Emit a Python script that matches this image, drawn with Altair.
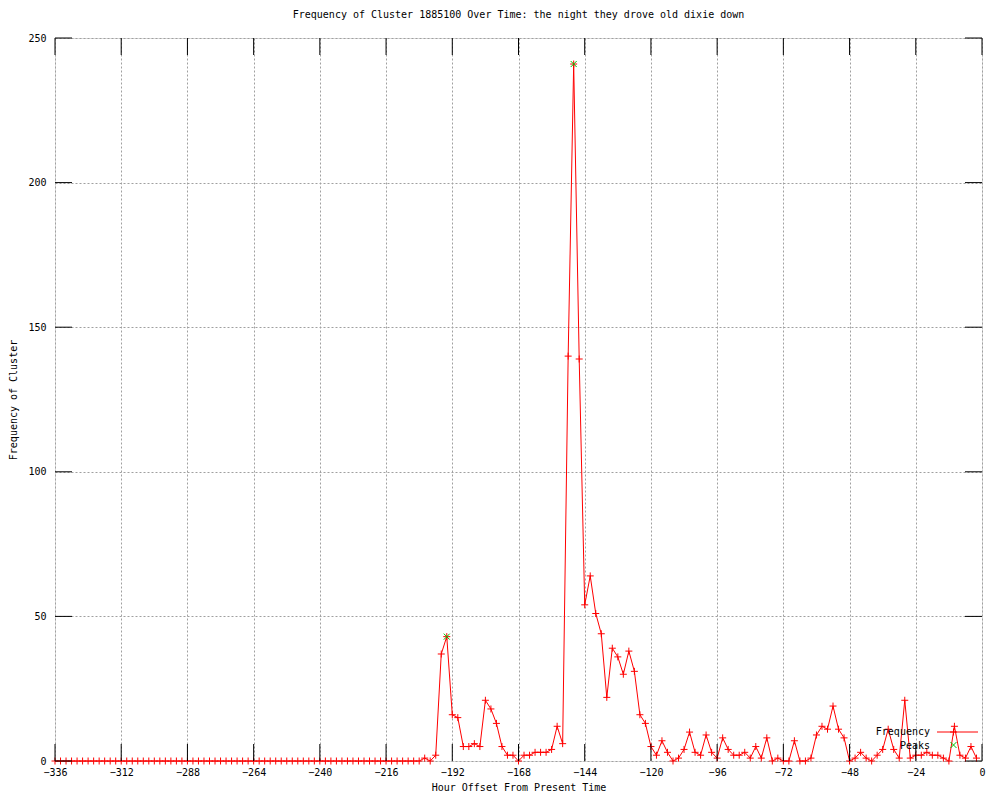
import altair as alt
import pandas as pd

# ---- data ----
hours = list(range(-336, 0, 2))  # -336 .. -2, every 2 hours
frequency = [
    0, 0, 0, 0, 0, 0, 0, 0, 0, 0,
    0, 0, 0, 0, 0, 0, 0, 0, 0, 0,
    0, 0, 0, 0, 0, 0, 0, 0, 0, 0,
    0, 0, 0, 0, 0, 0, 0, 0, 0, 0,
    0, 0, 0, 0, 0, 0, 0, 0, 0, 0,
    0, 0, 0, 0, 0, 0, 0, 0, 0, 0,
    0, 0, 0, 0, 0, 0, 0,
    1, 0, 2, 37, 43, 16, 15, 5, 5, 6,
    5, 21, 18, 13, 5, 2, 2, 0, 2, 2,
    3, 3, 3, 4, 12, 6, 140, 241, 139, 54,
    64, 51, 44, 22, 39, 36, 30, 38, 31, 16,
    13, 5, 2, 7, 3, 0, 1, 4, 10, 3,
    2, 9, 3, 1, 8, 4, 2, 2, 3, 1,
    5, 1, 8, 0, 1, 0, 0, 7, 0, 0,
    1, 9, 12, 11, 19, 11, 8, 0, 1, 3,
    1, 0, 2, 4, 11, 4, 1, 21, 1, 2,
    2, 3, 2, 2, 1, 0, 12, 2, 1, 5,
    1,
]
peak_hours = [-194, -148]
peak_values = [43, 241]

x_ticks = [-336, -312, -288, -264, -240, -216, -192, -168, -144, -120, -96, -72, -48, -24, 0]
y_ticks = [0, 50, 100, 150, 200, 250]
legend_labels = ["Frequency", "Peaks"]

TITLE = "Frequency of Cluster 1885100 Over Time: the night they drove old dixie down"
FONT = "DejaVu Sans Mono"
W, H = 927, 723
TICK = 17

df = pd.DataFrame({"hour": hours, "freq": frequency})
pk = pd.DataFrame({"hour": peak_hours, "freq": peak_values})
xt = pd.DataFrame({"t": x_ticks})
yt = pd.DataFrame({"t": y_ticks})

xscale = alt.Scale(domain=[-336, 0], nice=False, zero=False)
yscale = alt.Scale(domain=[0, 250], nice=False)

PLUS = "M-1,0L1,0M0,-1L0,1"
CROSS = "M-1,-1L1,1M-1,1L1,-1"

xaxis = alt.Axis(values=x_ticks, format="d", grid=True, gridColor="#a0a0a0",
                 gridDash=[2, 2], gridWidth=1, ticks=False, domain=False,
                 labelFlush=False, labelOverlap=False,
                 labelFont=FONT, labelFontSize=10, labelColor="black", labelPadding=6,
                 title="Hour Offset From Present Time", titleFont=FONT, titleFontSize=10,
                 titleFontWeight="normal", titleColor="black",
                 titleX=W / 2, titleY=29, titleBaseline="alphabetic")
yaxis = alt.Axis(values=y_ticks, format="d", grid=True, gridColor="#a0a0a0",
                 gridDash=[2, 2], gridWidth=1, ticks=False, domain=False,
                 labelFlush=False, labelOverlap=False,
                 labelFont=FONT, labelFontSize=10, labelColor="black", labelPadding=9,
                 title="Frequency of Cluster", titleFont=FONT, titleFontSize=10,
                 titleFontWeight="normal", titleColor="black",
                 titleX=-42, titleY=H / 2, titleBaseline="middle")

base = alt.Chart(df)
line = base.mark_line(color="#ff0000", strokeWidth=1).encode(
    x=alt.X("hour:Q", scale=xscale, axis=xaxis),
    y=alt.Y("freq:Q", scale=yscale, axis=yaxis),
)
pts = base.mark_point(shape=PLUS, filled=False, color="#ff0000", strokeWidth=1,
                      size=49, opacity=1).encode(
    x=alt.X("hour:Q", scale=xscale),
    y=alt.Y("freq:Q", scale=yscale),
)
peaks = alt.Chart(pk).mark_point(shape=CROSS, filled=False, color="#00c000",
                                 strokeWidth=1, size=36, opacity=1).encode(
    x=alt.X("hour:Q", scale=xscale),
    y=alt.Y("freq:Q", scale=yscale),
)

# inward major ticks (gnuplot style), on all four sides
xt_bottom = alt.Chart(xt).mark_rule(color="black", strokeWidth=1).encode(
    x=alt.X("t:Q", scale=xscale), y=alt.value(H), y2=alt.value(H - TICK))
xt_top = alt.Chart(xt).mark_rule(color="black", strokeWidth=1).encode(
    x=alt.X("t:Q", scale=xscale), y=alt.value(0), y2=alt.value(TICK))
yt_left = alt.Chart(yt).mark_rule(color="black", strokeWidth=1).encode(
    y=alt.Y("t:Q", scale=yscale), x=alt.value(0), x2=alt.value(TICK))
yt_right = alt.Chart(yt).mark_rule(color="black", strokeWidth=1).encode(
    y=alt.Y("t:Q", scale=yscale), x=alt.value(W), x2=alt.value(W - TICK))

# key (gnuplot style: text left of sample)
leg1 = pd.DataFrame({"label": legend_labels[:1]})
leg2 = pd.DataFrame({"label": legend_labels[1:]})
leg_text1 = alt.Chart(leg1).mark_text(font=FONT, fontSize=10, align="right",
                                      baseline="middle", color="black").encode(
    text="label:N", x=alt.value(875), y=alt.value(694))
leg_text2 = alt.Chart(leg2).mark_text(font=FONT, fontSize=10, align="right",
                                      baseline="middle", color="black").encode(
    text="label:N", x=alt.value(875), y=alt.value(708))
leg_line = alt.Chart(leg1).mark_rule(color="#ff0000", strokeWidth=1).encode(
    x=alt.value(882), x2=alt.value(923), y=alt.value(694))
leg_plus = alt.Chart(leg1).mark_point(shape=PLUS, filled=False, color="#ff0000",
                                      strokeWidth=1, size=49, opacity=1).encode(
    x=alt.value(898.5), y=alt.value(694))
leg_cross = alt.Chart(leg2).mark_point(shape=CROSS, filled=False, color="#00c000",
                                       strokeWidth=1, size=36, opacity=1).encode(
    x=alt.value(898.5), y=alt.value(707))

chart = alt.layer(
    line, pts, peaks, xt_bottom, xt_top, yt_left, yt_right,
    leg_text1, leg_text2, leg_line, leg_plus, leg_cross,
).properties(
    width=W, height=H,
    title=alt.TitleParams(TITLE, font=FONT, fontSize=10, fontWeight="normal",
                          color="black", anchor="middle", offset=13),
    autosize=alt.AutoSizeParams(type="none"),
    padding={"left": 47, "top": 30, "right": 8, "bottom": 30},
).configure_view(stroke="black", strokeWidth=1).configure(background="white")

chart.save("out.html", embed_options={"renderer": "svg", "actions": False})
